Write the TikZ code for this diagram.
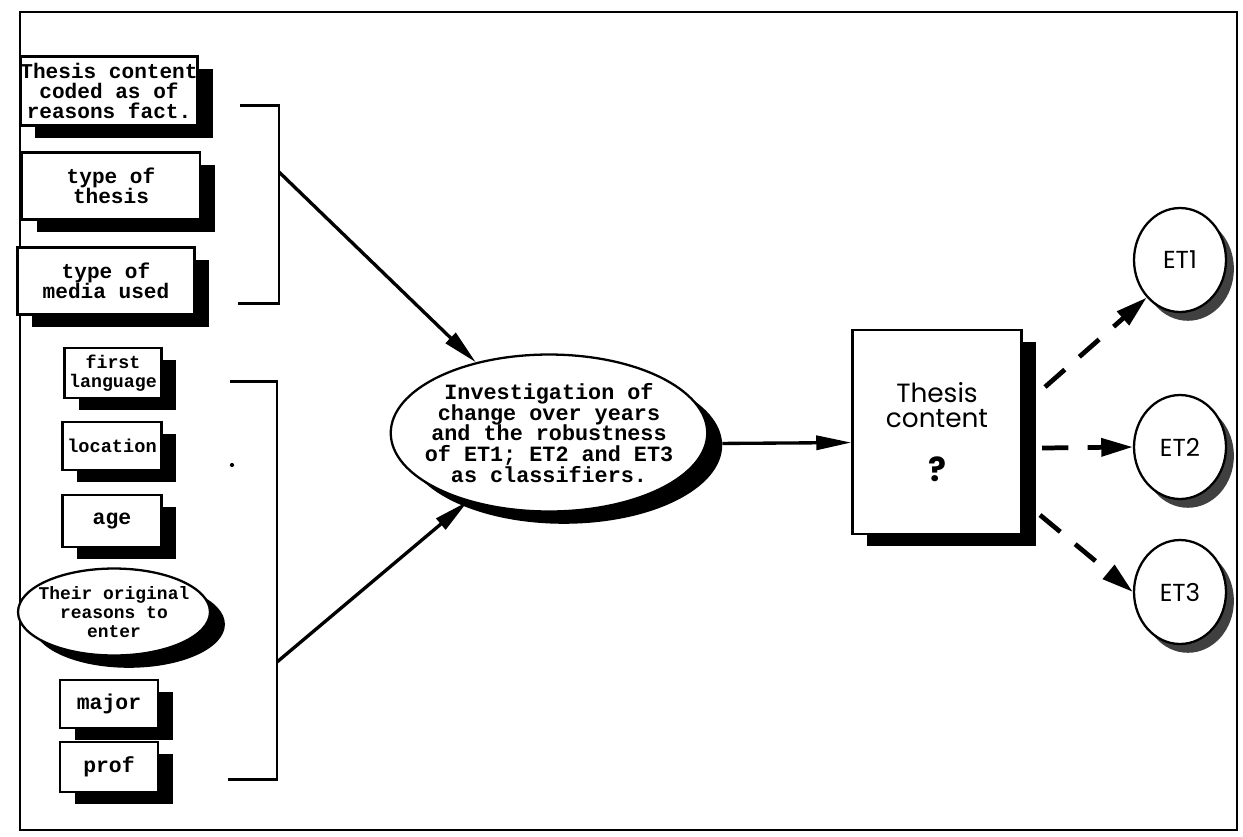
\documentclass[tikz,border=0pt]{standalone}
\usepackage{fontspec}
\setmonofont{Liberation Mono}
\setsansfont{Poppins}
\usetikzlibrary{shapes.geometric,shadows,arrows.meta}
\newcommand{\tw}[2]{\fontsize{#1}{#2}\selectfont\ttfamily\bfseries}

\begin{document}
\begin{tikzpicture}[x=0.02cm,y=-0.02cm,
	sbox/.style={draw,line width=1.3pt,fill=white,inner sep=0pt,align=center,
		drop shadow={shadow xshift=8.5pt,shadow yshift=-7pt,fill=black,opacity=1}},
	sell/.style={sbox,ellipse},
	etell/.style={ellipse,draw,line width=1.3pt,fill=white,inner sep=0pt,
		minimum width=1.84cm,minimum height=2.08cm,font=\sffamily\fontsize{14}{16}\selectfont,
		drop shadow={shadow xshift=4.5pt,shadow yshift=-5pt,fill=black!75,opacity=1}},
	arr/.style={line width=1.9pt,-{Triangle[length=20pt,width=8pt]}},
	dasharr/.style={line width=2.7pt,dash pattern=on 15pt off 11pt,-{Triangle[length=18pt,width=10pt]}}]

	\useasboundingbox (0,0) rectangle (1243,836);
	\draw[line width=1.3pt] (20,12) rectangle (1237,830);

	% left column
	\node[sbox,minimum width=3.5cm,minimum height=1.38cm,font=\tw{12}{11.6}] (coded) at (109,91) {Thesis content\\coded as of\\reasons fact.};
	\node[sbox,minimum width=3.56cm,minimum height=1.34cm,font=\tw{12}{11.4}] (ttype) at (111,186) {type of\\thesis};
	\node[sbox,minimum width=3.54cm,minimum height=1.34cm,font=\tw{12}{11.4}] (media) at (106,281) {type of\\media used};

	\node[sbox,minimum width=1.94cm,minimum height=1.0cm,font=\tw{10.4}{10.8}] (lang) at (113,373) {first\\language};
	\node[sbox,minimum width=1.98cm,minimum height=0.96cm,font=\tw{10.6}{10.8}] (loc) at (112,446) {location};
	\node[sbox,minimum width=1.98cm,minimum height=1.04cm,font=\tw{12.2}{11.6}] (age) at (112,521) {age};
	\node[sell,inner xsep=-5pt,minimum width=3.84cm,minimum height=1.74cm,font=\tw{10.2}{10.8}] (reas) at (114,612) {Their original\\reasons to\\enter};
	\node[sbox,minimum width=1.96cm,minimum height=0.96cm,font=\tw{12.2}{11.6}] (major) at (109,704) {major};
	\node[sbox,minimum width=1.96cm,minimum height=1.0cm,font=\tw{12.2}{11.6}] (prof) at (109,767) {prof};

	\fill (232,465) circle (1.2pt);

	% brackets
	\draw[line width=1.7pt] (240,105) -- (279,105) -- (279,303) -- (238,303);
	\draw[line width=1.7pt] (230,381) -- (277,381) -- (277,779) -- (228,779);
	\coordinate (b1) at (279,172);
	\coordinate (b2) at (277,662);

	% middle
	\node[sell,inner xsep=-7pt,inner ysep=0pt,minimum width=6.04cm,minimum height=3.14cm,font=\tw{12.4}{11.8}] (inv) at (549,433)
		{Investigation of\\change over years\\and the robustness\\of ET1; ET2 and ET3\\as classifiers.};
	\node[sbox,minimum width=3.38cm,minimum height=4.08cm,font=\sffamily\fontsize{15}{14.7}\selectfont] (tc) at (937,432)
		{Thesis\\content\\[16pt]{\fontsize{19}{19}\selectfont\textbf{?}}};

	\draw[arr] (b1) -- (inv);
	\draw[arr] (b2) -- (inv);
	\draw[arr,shorten <=8pt] ([yshift=-6pt]inv.east) -- ([yshift=-6pt]tc.west);

	% right
	\foreach \y/\n in {260/1,447/2,592/3}
		\node[etell] (et\n) at (1180,\y) {ET\n};

	\coordinate (s1) at (1045,387);
	\coordinate (s2) at (1042,448);
	\coordinate (s3) at (1040,515);
	\draw[dasharr] (s1) -- (et1.south west);
	\draw[dasharr] (s2) -- (et2.west);
	\draw[dasharr] (s3) -- (et3.west);
\end{tikzpicture}
\end{document}
